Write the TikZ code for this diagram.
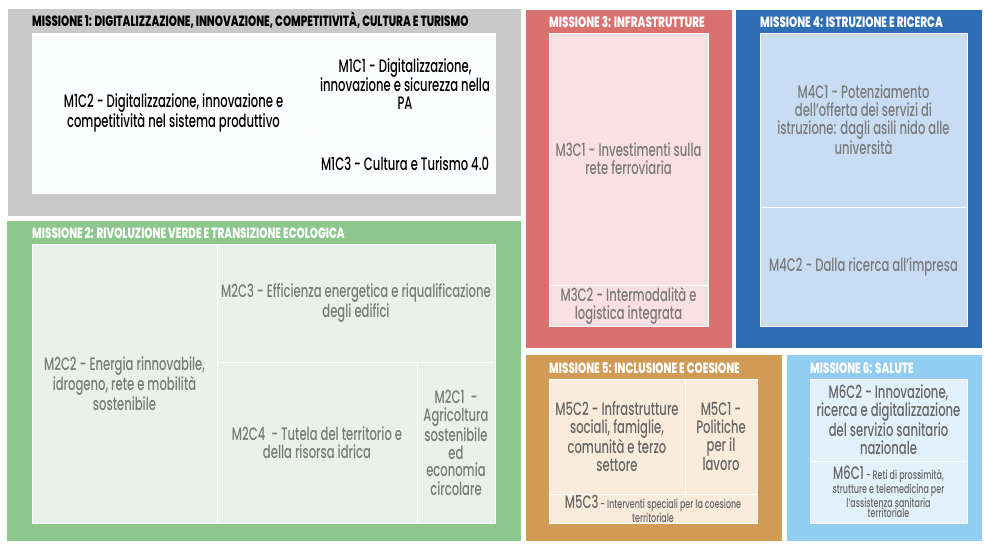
\documentclass[tikz,border=0pt]{standalone}
\usepackage{fontspec}
\setmainfont{Poppins}[FakeStretch=0.645, UprightFont=* Medium, BoldFont=* SemiBold]
\newfontfamily\titlefont{Poppins}[FakeStretch=0.7, UprightFont=* ExtraBold]
\usetikzlibrary{positioning}

\definecolor{grigio}{RGB}{200,201,200}
\definecolor{bianco}{RGB}{252,253,254}
\definecolor{verde}{RGB}{140,199,142}
\definecolor{verdechiaro}{RGB}{232,242,230}
\definecolor{rosso}{RGB}{217,113,111}
\definecolor{rosa}{RGB}{250,223,227}
\definecolor{blu}{RGB}{47,109,181}
\definecolor{bluchiaro}{RGB}{200,221,243}
\definecolor{arancio}{RGB}{209,154,85}
\definecolor{crema}{RGB}{250,235,218}
\definecolor{celeste}{RGB}{144,205,240}
\definecolor{celestechiaro}{RGB}{226,241,251}
\definecolor{testogrigio}{RGB}{122,122,122}

\begin{document}
\begin{tikzpicture}[x=1pt, y=-1pt,
    box/.style={anchor=north west, inner sep=0pt, outer sep=0pt},
    cell/.style={box, draw=white, line width=0.8pt, align=center, text=testogrigio,
        font=\fontsize{18}{18}\selectfont},
    titolo/.style={anchor=base west, inner sep=0pt, text=white,
        font=\titlefont\fontsize{14.8}{14}\selectfont},
    piccolo/.style={font=\fontsize{12.3}{10.5}\selectfont}]

    \useasboundingbox (0,0) rectangle (984,543);

    % Missione 1
    \node[box, fill=grigio, minimum width=513, minimum height=207](m1) at (8,9){};
    \node[titolo, text=black](m1t) at (32,27){MISSIONE 1: DIGITALIZZAZIONE, INNOVAZIONE, COMPETITIVITÀ, CULTURA E TURISMO};
    \node[cell, fill=bianco, text=black, minimum width=283, minimum height=160](m1c2) at (32,33){M1C2 - Digitalizzazione, innovazione e\\competitività nel sistema produttivo};
    \node[cell, fill=bianco, text=black, minimum width=180, minimum height=102](m1c1) at (m1c2.north east){M1C1 - Digitalizzazione,\\innovazione e sicurezza nella\\PA};
    \node[cell, fill=bianco, text=black, minimum width=180, minimum height=58, below=0pt of m1c1](m1c3){M1C3 - Cultura e Turismo 4.0};

    % Missione 2
    \node[box, fill=verde, minimum width=514, minimum height=320](m2) at (7,221){};
    \node[titolo](m2t) at (32,238){MISSIONE 2: RIVOLUZIONE VERDE E TRANSIZIONE ECOLOGICA};
    \node[cell, fill=verdechiaro, minimum width=185, minimum height=279](m2c2) at (32,244){M2C2 - Energia rinnovabile,\\idrogeno, rete e mobilità\\sostenibile};
    \node[cell, fill=verdechiaro, minimum width=278, minimum height=118](m2c3) at (m2c2.north east){M2C3 - Efficienza energetica e riqualificazione\\degli edifici};
    \node[cell, fill=verdechiaro, minimum width=200, minimum height=161, below right=0pt and 0pt of m2c3.south west](m2c4){M2C4\ \ - Tutela del territorio e\\della risorsa idrica};
    \node[cell, fill=verdechiaro, minimum width=78, minimum height=161, right=0pt of m2c4](m2c1){M2C1\ \ -\\Agricoltura\\sostenibile\\ed\\economia\\circolare};

    % Missione 3
    \node[box, fill=rosso, minimum width=206, minimum height=338](m3) at (526,10){};
    \node[titolo](m3t) at (549,28){MISSIONE 3: INFRASTRUTTURE};
    \node[cell, fill=rosa, minimum width=159, minimum height=252](m3c1) at (549,33){M3C1 - Investimenti sulla\\rete ferroviaria};
    \node[cell, fill=rosa, minimum width=159, minimum height=41, below=0pt of m3c1](m3c2){M3C2 - Intermodalità e\\logistica integrata};

    % Missione 4
    \node[box, fill=blu, minimum width=246, minimum height=338](m4) at (736,10){};
    \node[titolo](m4t) at (760,28){MISSIONE 4: ISTRUZIONE E RICERCA};
    \node[cell, fill=bluchiaro, minimum width=207, minimum height=174](m4c1) at (760,33){M4C1 - Potenziamento\\dell’offerta dei servizi di\\istruzione: dagli asili nido alle\\università};
    \node[cell, fill=bluchiaro, minimum width=207, minimum height=119, below=0pt of m4c1](m4c2){M4C2 - Dalla ricerca all’impresa};

    % Missione 5
    \node[box, fill=arancio, minimum width=256, minimum height=186](m5) at (526,355){};
    \node[titolo](m5t) at (549,373){MISSIONE 5: INCLUSIONE E COESIONE};
    \node[cell, fill=crema, text=black!60, minimum width=136, minimum height=115](m5c2) at (549,379){M5C2 - Infrastrutture\\sociali, famiglie,\\comunità e terzo\\settore};
    \node[cell, fill=crema, text=black!60, minimum width=72, minimum height=115, right=0pt of m5c2](m5c1){M5C1 -\\Politiche\\per il\\lavoro};
    \node[cell, piccolo, fill=crema, text=black!60, minimum width=208, minimum height=29, below right=0pt and 0pt of m5c2.south west](m5c3){{\fontsize{18}{10}\selectfont M5C3} - Interventi speciali per la coesione\\territoriale};

    % Missione 6
    \node[box, fill=celeste, minimum width=195, minimum height=186](m6) at (787,355){};
    \node[titolo](m6t) at (810,373){MISSIONE 6: SALUTE};
    \node[cell, fill=celestechiaro, text=black!60, minimum width=157, minimum height=82](m6c2) at (810,379){M6C2 - Innovazione,\\ricerca e digitalizzazione\\del servizio sanitario\\nazionale};
    \node[cell, piccolo, fill=celestechiaro, text=black!60, minimum width=157, minimum height=62, below=0pt of m6c2](m6c1){{\fontsize{18}{10}\selectfont M6C1} - Reti di prossimità,\\strutture e telemedicina per\\l’assistenza sanitaria\\territoriale};

\end{tikzpicture}
\end{document}
